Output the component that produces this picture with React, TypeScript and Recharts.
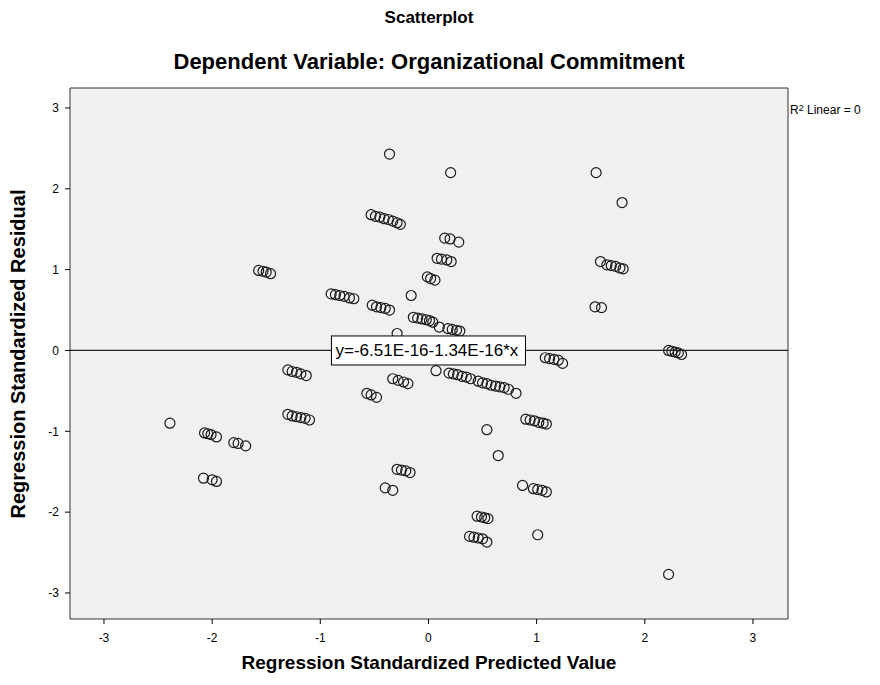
import React from 'react';
import { ScatterChart, Scatter, XAxis, YAxis, ReferenceArea, ReferenceLine, ReferenceDot } from 'recharts';

// Regression Standardized Predicted Value
const predicted = [
  -2.39,
  -2.07, -2.04, -2.01, -1.96,
  -2.08, -2.0, -1.96,
  -1.8, -1.76, -1.69,
  -1.57, -1.53, -1.5, -1.46,
  -1.3, -1.26, -1.22, -1.18, -1.13,
  -1.3, -1.26, -1.22, -1.18, -1.14, -1.1,
  -0.9, -0.86, -0.82, -0.78, -0.73, -0.69,
  -0.53, -0.49, -0.45, -0.41, -0.37, -0.33, -0.29, -0.26,
  -0.36,
  -0.52, -0.48, -0.44, -0.4, -0.36,
  -0.57, -0.53, -0.48,
  -0.33, -0.28, -0.23, -0.19,
  -0.29,
  -0.16,
  -0.14, -0.1, -0.06, -0.02, 0.01, 0.04,
  -0.01, 0.02, 0.06,
  0.08, 0.12, 0.17, 0.21,
  0.15, 0.2, 0.28,
  0.205,
  0.1,
  0.18, 0.22, 0.26, 0.29,
  0.07,
  0.19, 0.23, 0.27, 0.31, 0.35, 0.39, 0.46, 0.5, 0.54, 0.58, 0.62, 0.66, 0.7, 0.74, 0.81,
  -0.4, -0.33,
  -0.29, -0.25, -0.21, -0.17,
  0.54,
  0.9, 0.94, 0.98, 1.02, 1.06, 1.09,
  1.08, 1.12, 1.16, 1.2, 1.24,
  0.645,
  0.87,
  0.97, 1.01, 1.05, 1.09,
  0.45, 0.49, 0.52, 0.55,
  0.38, 0.42, 0.46, 0.5, 0.54,
  1.01,
  2.22,
  1.55,
  1.79,
  1.59, 1.65, 1.69, 1.73, 1.77, 1.8,
  1.54, 1.6,
  2.22, 2.25, 2.28, 2.31, 2.34,
];

// Regression Standardized Residual
const residual = [
  -0.9,
  -1.02, -1.03, -1.04, -1.07,
  -1.58, -1.6, -1.62,
  -1.14, -1.15, -1.18,
  0.99, 0.98, 0.97, 0.95,
  -0.24, -0.26, -0.27, -0.29, -0.31,
  -0.79, -0.81, -0.82, -0.83, -0.84, -0.86,
  0.7, 0.69, 0.68, 0.67, 0.65, 0.64,
  1.68, 1.66, 1.65, 1.63, 1.62, 1.6, 1.58, 1.56,
  2.43,
  0.56, 0.54, 0.53, 0.52, 0.5,
  -0.53, -0.55, -0.58,
  -0.35, -0.37, -0.39, -0.41,
  0.21,
  0.68,
  0.41, 0.4, 0.39, 0.38, 0.37, 0.35,
  0.91, 0.89, 0.87,
  1.14, 1.13, 1.12, 1.1,
  1.39, 1.38, 1.34,
  2.2,
  0.29,
  0.27, 0.26, 0.25, 0.24,
  -0.25,
  -0.28, -0.29, -0.3, -0.32, -0.33, -0.35, -0.38, -0.4, -0.41, -0.43, -0.44, -0.45, -0.46, -0.48, -0.53,
  -1.7, -1.73,
  -1.47, -1.48, -1.49, -1.51,
  -0.98,
  -0.85, -0.86, -0.87, -0.89, -0.9, -0.91,
  -0.09, -0.1, -0.11, -0.12, -0.16,
  -1.3,
  -1.67,
  -1.71, -1.72, -1.73, -1.75,
  -2.05, -2.06, -2.07, -2.08,
  -2.3, -2.31, -2.32, -2.33, -2.37,
  -2.28,
  -2.77,
  2.2,
  1.83,
  1.1, 1.06, 1.05, 1.04, 1.02, 1.01,
  0.54, 0.53,
  0.0, -0.01, -0.02, -0.03, -0.05,
];

const tickValues = [-3, -2, -1, 0, 1, 2, 3];
const xDomain: [number, number] = [-3.314, 3.324];
const yDomain: [number, number] = [-3.322, 3.247];
const fitIntercept = -6.51e-16;
const fitLabel = 'y=-6.51E-16-1.34E-16*x';

const titleText = 'Scatterplot';
const subtitleText = 'Dependent Variable: Organizational Commitment';
const xLabelText = 'Regression Standardized Predicted Value';
const yLabelText = 'Regression Standardized Residual';

const data = predicted.map((x, i) => ({ x, y: residual[i] }));

const FONT = 'Arial, "Liberation Sans", sans-serif';

const OpenCircle = (p: any) => (
  <circle cx={p.cx} cy={p.cy} r={5} fill="none" stroke="#1c1c1c" strokeWidth={1.2} />
);

const FitLabel = (p: any) => {
  const w = 194;
  const h = 29;
  return (
    <g>
      <rect x={p.cx - w / 2} y={p.cy - h / 2} width={w} height={h} fill="#ffffff" stroke="#000" strokeWidth={1} />
      <text x={p.cx - w / 2 + 4} y={p.cy + 6} textAnchor="start" fontSize={17} fontFamily={FONT} fill="#000">
        {fitLabel}
      </text>
    </g>
  );
};

export default function App() {
  return (
    <div style={{ position: 'absolute', left: 0, top: 0, width: 880, height: 685, background: '#fff', fontFamily: FONT }}>
      <div style={{ position: 'absolute', left: 0, width: 858, top: 7, textAlign: 'center', fontWeight: 'bold', fontSize: 17, lineHeight: '22px' }}>
        {titleText}
      </div>
      <div style={{ position: 'absolute', left: 0, width: 858, top: 50, textAlign: 'center', fontWeight: 'bold', fontSize: 22, lineHeight: '24px' }}>
        {subtitleText}
      </div>
      <div style={{ position: 'absolute', left: 0, width: 858, top: 651, textAlign: 'center', fontWeight: 'bold', fontSize: 19, lineHeight: '24px' }}>
        {xLabelText}
      </div>
      <div
        style={{
          position: 'absolute',
          left: 18 - 200,
          top: 354 - 12,
          width: 400,
          textAlign: 'center',
          fontWeight: 'bold',
          fontSize: 20,
          lineHeight: '24px',
          transform: 'rotate(-90deg)',
        }}
      >
        {yLabelText}
      </div>
      <div style={{ position: 'absolute', left: 790, top: 103, fontSize: 12, lineHeight: '14px', whiteSpace: 'nowrap' }}>
        R<sup style={{ fontSize: 9, verticalAlign: 'top', lineHeight: '10px' }}>2</sup> Linear = 0
      </div>
      <div style={{ position: 'absolute', left: 0, top: 0 }}>
        <ScatterChart width={880} height={685} margin={{ top: 88, right: 92, left: 0, bottom: 0 }}>
          <XAxis
            type="number"
            dataKey="x"
            domain={xDomain}
            ticks={tickValues}
            allowDataOverflow
            height={66}
            axisLine={false}
            tickLine={{ stroke: '#000' }}
            tickSize={5}
            tickMargin={9}
            tick={{ fill: '#000', fontSize: 12, fontFamily: FONT }}
          />
          <YAxis
            type="number"
            dataKey="y"
            domain={yDomain}
            ticks={tickValues}
            allowDataOverflow
            width={70}
            axisLine={false}
            tickLine={{ stroke: '#000' }}
            tickSize={5}
            tickMargin={6}
            tick={{ fill: '#000', fontSize: 12, fontFamily: FONT }}
          />
          <ReferenceArea
            x1={xDomain[0]}
            x2={xDomain[1]}
            y1={yDomain[0]}
            y2={yDomain[1]}
            fill="#f0f0f0"
            fillOpacity={1}
            stroke="#333"
            strokeWidth={1}
            ifOverflow="visible"
          />
          <ReferenceLine y={fitIntercept} stroke="#222" strokeWidth={1.2} ifOverflow="visible" />
          <Scatter data={data} shape={OpenCircle} isAnimationActive={false} />
          <ReferenceDot x={0} y={0} r={1} shape={FitLabel} ifOverflow="visible" />
        </ScatterChart>
      </div>
    </div>
  );
}
